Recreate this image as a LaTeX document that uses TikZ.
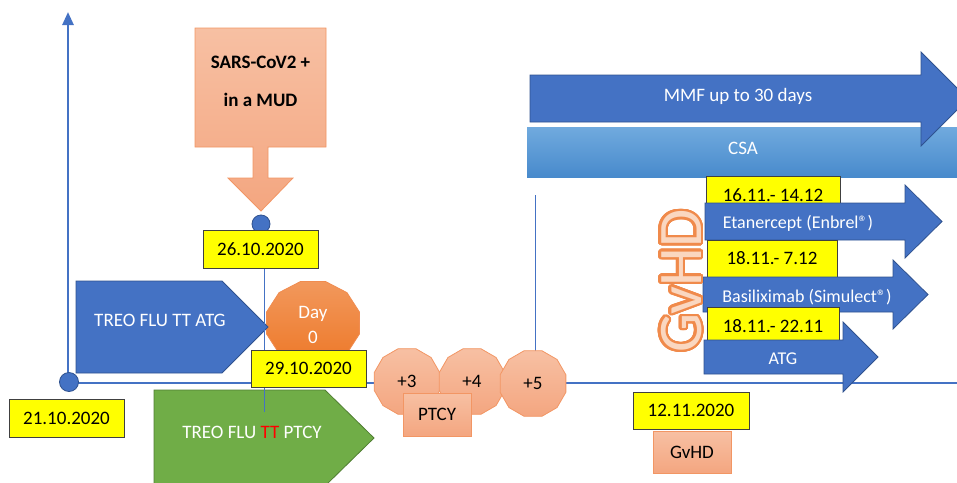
\documentclass[tikz,border=0pt]{standalone}
\usepackage{fontspec}
\setmainfont{Carlito}
\usepackage{contour}
\usetikzlibrary{arrows.meta,shapes.geometric}
\definecolor{mblue}{HTML}{4472C4}
\definecolor{mblueb}{HTML}{2F528F}
\definecolor{mgreen}{HTML}{70AD47}
\definecolor{mgreenb}{HTML}{507E32}
\definecolor{ybox}{HTML}{FFFF00}
\definecolor{yboxb}{HTML}{404040}
\definecolor{salmtop}{RGB}{247,192,163}
\definecolor{salmbot}{RGB}{244,166,128}
\definecolor{salmb}{RGB}{242,150,100}
\definecolor{daytop}{RGB}{242,152,92}
\definecolor{daybot}{RGB}{237,120,40}
\definecolor{dayb}{RGB}{240,140,80}
\definecolor{csatop}{RGB}{112,170,222}
\definecolor{csabot}{RGB}{72,138,204}
\definecolor{gvout}{HTML}{F08A4B}
\definecolor{gvin}{HTML}{FAD7C0}
\contourlength{2.4pt}
\contournumber{32}
\begin{document}
\begin{tikzpicture}[x=1pt,y=-1pt,
  lbl/.style={font=\fontsize{19}{22}\selectfont,inner sep=0pt},
  wlbl/.style={lbl,text=white},
  datebox/.style={lbl,fill=ybox,draw=yboxb,line width=0.8pt,minimum height=38pt},
  salmbox/.style={lbl,top color=salmtop,bottom color=salmbot,draw=salmb,line width=0.8pt},
  blockblue/.style={fill=mblue,draw=mblueb,line width=0.8pt},
  blockgreen/.style={fill=mgreen,draw=mgreenb,line width=0.8pt},
  plusgon/.style={salmbox,regular polygon,regular polygon sides=12,minimum size=68pt},
  axisline/.style={draw=mblue,line width=2.6pt},
  guide/.style={draw=mblue,line width=0.9pt},
  dotc/.style={circle,fill=mblue,draw=mblueb,line width=0.8pt,inner sep=0pt},
]
\useasboundingbox (0,0) rectangle (957,482);
\clip (0,0) rectangle (957,482);

% axes
\coordinate (orig) at (68,383);
\coordinate (ytop) at (68,12);
\coordinate (xend) at (970,383);
\draw[axisline,-{Triangle[width=11pt,length=13pt]}] (orig) -- (ytop);
\draw[axisline,-{Triangle[width=11pt,length=13pt]}] (orig) -- (xend);
\node[dotc,minimum size=19pt] (odot) at (69,382) {};

% CSA bar and MMF arrow
\shade[top color=csatop,bottom color=csabot] (527,127) rectangle (960,177);
\node[wlbl] (csa) at (743,148) {CSA};
\draw[blockblue] (530,75) -- (921,75) -- (921,52) -- (968,99) -- (921,146) -- (921,122) -- (530,122) -- cycle;
\node[wlbl] (mmf) at (738,96) {MMF up to 30 days};

% guide line near +5
\coordinate (g2a) at (535,195);
\coordinate (g2b) at (535,352);
\draw[guide] (g2a) -- (g2b);

% Day 0
\coordinate (d0) at (313,323);
\draw[top color=daytop,bottom color=daybot,draw=dayb,line width=0.8pt]
  (d0) +(15:48 and 43) \foreach \a in {45,75,...,345}{ -- +(\a:48 and 43)} -- cycle;
\node[wlbl,align=center,font=\fontsize{19}{25}\selectfont] (day0) at (313,325) {Day\\0};

% conditioning arrows
\draw[blockblue] (76,281) -- (222,281) -- (268,327) -- (222,373) -- (76,373) -- cycle;
\node[wlbl] (treoatg) at (160,320) {TREO FLU TT ATG};
\draw[blockgreen] (154,390) -- (325,390) -- (374,438) -- (325,486) -- (154,486) -- cycle;
\node[wlbl] (treoptcy) at (252,432) {TREO FLU \textcolor{red}{TT} PTCY};

% guide line at 26.10
\coordinate (g1a) at (264,268);
\coordinate (g1b) at (264,412);
\draw[guide] (g1a) -- (g1b);

% SARS block arrow
\draw[top color=salmtop,bottom color=salmbot,draw=salmb,line width=0.8pt]
  (195,28) -- (326,28) -- (326,147) -- (268,147) -- (268,178) -- (293,178) -- (261,211)
  -- (228,178) -- (253,178) -- (253,147) -- (195,147) -- cycle;
\node[lbl,font=\bfseries\fontsize{19}{38}\selectfont,align=center] (sars) at (260.5,81) {SARS-CoV2 +\\in a MUD};
\node[dotc,minimum size=18pt] (sdot) at (261,224) {};

% date boxes (left)
\node[datebox,minimum width=115pt] (d2110) at (66.5,418) {21.10.2020};
\node[datebox,minimum width=115pt] (d2610) at (260.5,249) {26.10.2020};
\node[datebox,minimum width=115pt,minimum height=37pt] (d2910) at (308.5,368.5) {29.10.2020};

% PTCY days
\node[plusgon] (p3) at (407,381.5) {+3};
\node[plusgon] (p4) at (472,381.5) {+4};
\node[plusgon] (p5) at (533,383.5) {+5};
\node[salmbox,minimum width=68pt,minimum height=43pt] (ptcy) at (437,414.5) {PTCY};

% GvHD treatments
\node[datebox,minimum width=134pt] (e1) at (773,195) {16.11.- 14.12};
\draw[blockblue] (705,203) -- (905,203) -- (905,185) -- (942,221.5) -- (905,258) -- (905,240) -- (705,240) -- cycle;
\node[wlbl,font=\fontsize{18}{22}\selectfont] (etan) at (798,223) {Etanercept (Enbrel®)};
\node[datebox,minimum width=130pt,minimum height=37pt] (e2) at (772,258.5) {18.11.- 7.12};
\draw[blockblue] (703,277) -- (893,277) -- (893,260) -- (928,294.5) -- (893,329) -- (893,312) -- (703,312) -- cycle;
\node[wlbl,font=\fontsize{18}{22}\selectfont] (basi) at (807,297) {Basiliximab (Simulect®)};
\node[datebox,minimum width=132pt] (e3) at (773,326) {18.11.- 22.11};
\draw[blockblue] (704,340) -- (843,340) -- (843,322) -- (878,357) -- (843,392) -- (843,374) -- (704,374) -- cycle;
\node[wlbl,font=\fontsize{18}{22}\selectfont] (atg) at (783,359) {ATG};

% GvHD big text
\node[inner sep=0pt,rotate=90,font=\fontsize{62}{62}\selectfont] (gvbig) at (682.5,281) {\contour{gvout}{\textcolor{gvin}{GvHD}}};

% GvHD onset
\node[datebox,minimum width=116pt,minimum height=37pt] (d1211) at (691,410.5) {12.11.2020};
\node[salmbox,minimum width=78pt,minimum height=42pt] (gvsmall) at (692,452) {GvHD};
\end{tikzpicture}
\end{document}
